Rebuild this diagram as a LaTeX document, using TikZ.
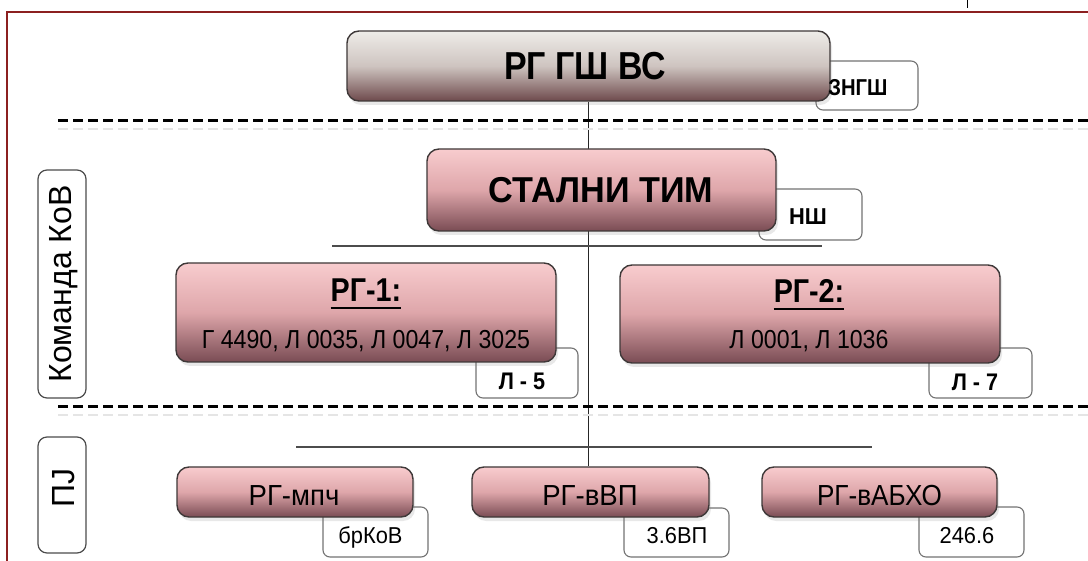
\documentclass[tikz,border=0pt]{standalone}
\usepackage{fontspec}
\setmainfont{Liberation Sans}
\usetikzlibrary{shadows,backgrounds}
\definecolor{pinkT}{RGB}{248,204,206}
\definecolor{pinkM}{RGB}{222,166,170}
\definecolor{pinkB}{RGB}{122,76,84}
\definecolor{grayT}{RGB}{238,236,232}
\definecolor{grayM}{RGB}{206,196,192}
\definecolor{grayB}{RGB}{110,74,76}
\definecolor{framered}{RGB}{140,32,32}
\definecolor{boxline}{RGB}{62,56,56}
\newcommand{\fsz}[1]{\fontsize{#1}{#1}\selectfont}
\begin{document}
\begin{tikzpicture}[x=1pt,y=-1pt,
 mainbox/.style={draw=boxline, line width=1.4pt, rounded corners=12pt, inner sep=0pt,
   drop shadow={opacity=0.18,shadow xshift=2pt,shadow yshift=-4pt}},
 pinkbox/.style={mainbox, top color=pinkT, bottom color=pinkB, middle color=pinkM},
 graybox/.style={mainbox, top color=grayT, bottom color=grayB, middle color=grayM},
 tagbox/.style={draw=black!55, line width=1.1pt, fill=white, rounded corners=7pt, inner sep=0pt},
 sidebox/.style={draw=black!70, line width=1.2pt, fill=white, rounded corners=9pt, inner sep=0pt},
 txt/.style={inner sep=0pt, anchor=base},
 dline/.style={line width=3pt, dash pattern=on 10pt off 5pt},
 dshadow/.style={line width=2pt, dash pattern=on 10pt off 5pt, black!10},
 hline/.style={line width=1.8pt, black!70},
 vline/.style={line width=1.7pt, black!85},
]
\useasboundingbox (0,0) rectangle (1088,561);
% frame
\draw[framered, line width=2pt] (1088,12) -- (7,12) -- (7,561);
\draw[black, line width=1pt] (967,0) -- (967,8);
% dashed separators
\coordinate (d1a) at (58,121); \coordinate (d1b) at (1088,121);
\coordinate (d2a) at (58,407); \coordinate (d2b) at (1088,407);
\draw[dshadow] ([yshift=-8pt]d1a) -- ([yshift=-8pt]d1b);
\draw[dshadow] ([yshift=-8pt]d2a) -- ([yshift=-8pt]d2b);
\draw[dline] (d1a) -- (d1b);
\draw[dline] (d2a) -- (d2b);
% horizontal bars
\coordinate (h1a) at (332,246); \coordinate (h1b) at (822,246);
\coordinate (h2a) at (296,447); \coordinate (h2b) at (872,447);
\draw[hline] (h1a) -- (h1b);
\draw[hline] (h2a) -- (h2b);
% side labels
\node[sidebox, minimum width=48pt, minimum height=228pt] (kov) at (62,284) {};
\node[inner sep=0pt, rotate=90, font=\fsz{32}] (kovt) at (64,284) {Команда КоВ};
\node[sidebox, minimum width=48pt, minimum height=116pt] (pj) at (62,495) {};
\node[inner sep=0pt, rotate=90, font=\fsz{32}] (pjt) at (64,488) {ПЈ};
% tag boxes (behind main boxes)
\node[tagbox, minimum width=102pt, minimum height=49pt] (zngs) at (867,85.5) {};
\node[tagbox, minimum width=103pt, minimum height=51pt] (ns) at (810.5,214.5) {};
\node[tagbox, minimum width=102pt, minimum height=50pt] (l5) at (527,373) {};
\node[tagbox, minimum width=103pt, minimum height=50pt] (l7) at (980.5,373) {};
\node[tagbox, minimum width=105pt, minimum height=50pt] (brkov) at (375.5,532) {};
\node[tagbox, minimum width=105pt, minimum height=49pt] (vp) at (676.5,532.5) {};
\node[tagbox, minimum width=105pt, minimum height=50pt] (b246) at (971.5,532) {};
% main boxes
\node[graybox, minimum width=483pt, minimum height=70pt] (top) at (588.5,66) {};
\node[pinkbox, minimum width=349pt, minimum height=82pt] (st) at (601.5,190) {};
\node[pinkbox, minimum width=380pt, minimum height=99pt] (rg1) at (366,312.5) {};
\node[pinkbox, minimum width=380pt, minimum height=98pt] (rg2) at (810,314) {};
\node[pinkbox, minimum width=236pt, minimum height=50pt] (mpc) at (295,492) {};
\node[pinkbox, minimum width=237pt, minimum height=50pt] (vvp) at (590.5,492) {};
\node[pinkbox, minimum width=235pt, minimum height=50pt] (vabho) at (879.5,492) {};
% trunk line behind boxes
\begin{scope}[on background layer]
\draw[vline] (top.south) -- (top.south |- vvp.north);
\end{scope}
% texts
\node[txt, font=\bfseries\fsz{39}] (topt) at (585,80) {\scalebox{0.87}[1]{РГ ГШ ВС}};
\node[txt, font=\bfseries\fsz{36}] (stt) at (601,203) {\scalebox{0.95}[1]{СТАЛНИ ТИМ}};
\node[txt, font=\bfseries\fsz{33}] (rg1t) at (366,302) {\scalebox{0.87}[1]{РГ-1:}};
\draw[line width=2.5pt] ([yshift=-6pt]rg1t.base west) -- ([yshift=-6pt]rg1t.base east);
\node[txt, font=\fsz{26}] (rg1s) at (366,349) {\scalebox{0.89}[1]{Г 4490, Л 0035, Л 0047, Л 3025}};
\node[txt, font=\bfseries\fsz{33}] (rg2t) at (809,303) {\scalebox{0.87}[1]{РГ-2:}};
\draw[line width=2.5pt] ([yshift=-6pt]rg2t.base west) -- ([yshift=-6pt]rg2t.base east);
\node[txt, font=\fsz{26}] (rg2s) at (809,349) {\scalebox{0.89}[1]{Л 0001, Л 1036}};
\node[txt, font=\fsz{29}] (mpct) at (294,505) {\scalebox{0.95}[1]{РГ-мпч}};
\node[txt, font=\fsz{29}] (vvpt) at (590,505) {\scalebox{0.95}[1]{РГ-вВП}};
\node[txt, font=\fsz{29}] (vabhot) at (879.5,505) {\scalebox{0.9}[1]{РГ-вАБХО}};
\node[txt, font=\bfseries\fsz{23}] (zngst) at (858,96) {\scalebox{0.88}[1]{ЗНГШ}};
\node[txt, font=\bfseries\fsz{23}] (nst) at (808,225) {\scalebox{0.95}[1]{НШ}};
\node[txt, font=\bfseries\fsz{24}] (l5t) at (522,390) {\scalebox{0.9}[1]{Л - 5}};
\node[txt, font=\bfseries\fsz{24}] (l7t) at (975,391) {\scalebox{0.9}[1]{Л - 7}};
\node[txt, font=\fsz{23}] (brkovt) at (370.5,543) {\scalebox{0.95}[1]{брКоВ}};
\node[txt, font=\fsz{23}] (vpt) at (677,543) {\scalebox{0.95}[1]{3.6ВП}};
\node[txt, font=\fsz{23}] (b246t) at (967,543) {\scalebox{0.95}[1]{246.6}};
\end{tikzpicture}
\end{document}
